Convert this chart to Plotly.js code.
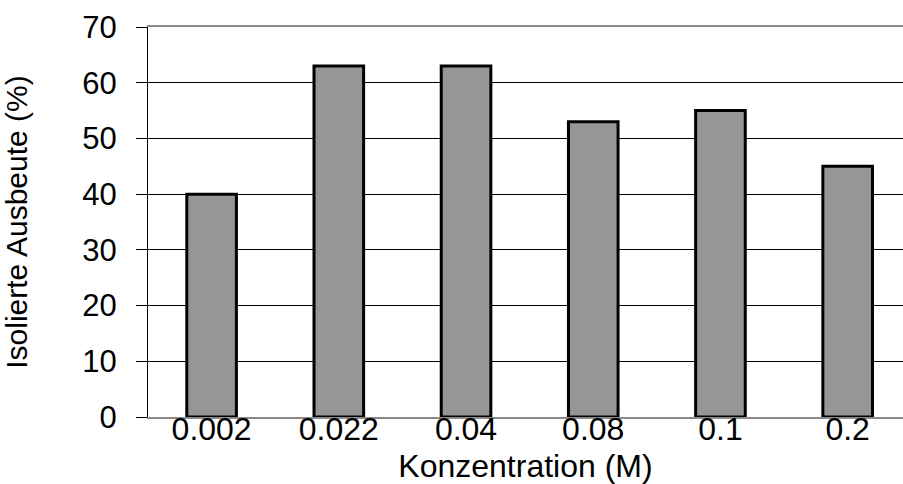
<!DOCTYPE html>
<html>
<head>
<meta charset="utf-8">
<script src="https://cdn.plot.ly/plotly-3.0.1.min.js"></script>
<style>html,body{margin:0;padding:0;background:#fff;}#chart{width:903px;height:484px;}</style>
</head>
<body>
<div id="chart"></div>
<script>
const categories = ["0.002", "0.022", "0.04", "0.08", "0.1", "0.2"];
const yieldValues = [40, 63, 63, 53, 55, 45];
const yTickValues = [0, 10, 20, 30, 40, 50, 60, 70];

const trace = {
  type: "bar",
  x: categories,
  y: yieldValues,
  width: 0.39,
  marker: { color: "#969696", line: { color: "#000000", width: 3 } },
  hoverinfo: "x+y"
};

const font = "'Liberation Sans', Arial, sans-serif";

const layout = {
  width: 903,
  height: 484,
  margin: { l: 148, r: 0, t: 27, b: 67 },
  paper_bgcolor: "#ffffff",
  plot_bgcolor: "#ffffff",
  showlegend: false,
  font: { family: font, color: "#000000" },
  xaxis: {
    type: "category",
    range: [-0.5, 5.435],
    showgrid: false,
    showline: true,
    linecolor: "#8a8a8a",
    linewidth: 2,
    mirror: true,
    ticks: "",
    tickfont: { family: font, size: 32, color: "#000" },
    ticklabelstandoff: -17,
    title: { text: "Konzentration (M)", font: { family: font, size: 32, color: "#000" }, standoff: 17 },
    fixedrange: true
  },
  yaxis: {
    range: [0, 70],
    tickvals: yTickValues,
    showgrid: true,
    gridcolor: "#000000",
    gridwidth: 1,
    zeroline: false,
    showline: true,
    linecolor: "#000000",
    linewidth: 1,
    ticks: "outside",
    ticklen: 11,
    tickcolor: "#000000",
    tickfont: { family: font, size: 31, color: "#000" },
    ticklabelstandoff: 13,
    title: { text: "Isolierte Ausbeute (%)", font: { family: font, size: 30, color: "#000" }, standoff: 47 },
    fixedrange: true
  },
  bargap: 0.6
};

Plotly.newPlot("chart", [trace], layout, { displayModeBar: false, staticPlot: true });
</script>
</body>
</html>
